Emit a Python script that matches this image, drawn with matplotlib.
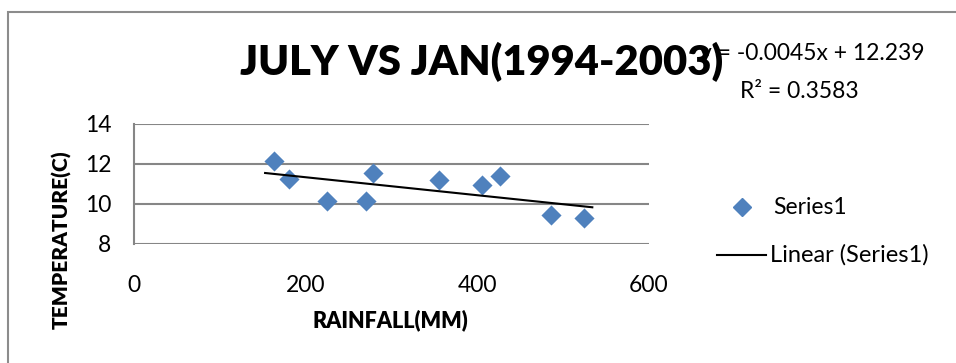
import numpy as np
import matplotlib.pyplot as plt
from matplotlib.lines import Line2D
from matplotlib.patches import Rectangle

# data
rainfall = [163, 181, 225, 271, 279, 356, 406, 427, 486, 524]
temperature = [12.17, 11.25, 10.13, 10.15, 11.53, 11.2, 10.97, 11.4, 9.43, 9.3]
slope, intercept = -0.0045, 12.239
r_squared = 0.3583
x_ticks = [0, 200, 400, 600]
y_ticks = [8, 10, 12, 14]

W, H = 956, 363
font = ['Lato', 'DejaVu Sans']
plt.rcParams['font.family'] = font
fs = 16.5

fig = plt.figure(figsize=(W / 100, H / 100), dpi=100)

# chart border (cropped on right/bottom)
fig.patches.append(Rectangle((8 / W, -0.1), 1.2, 1 - 12 / H + 0.1, transform=fig.transFigure,
                             fill=False, edgecolor='#8c8c8c', linewidth=1.5))

ax = fig.add_axes([133.7 / W, 1 - 244 / H, (649 - 133.7) / W, 120 / H])
ax.set_xlim(0, 600)
ax.set_ylim(8, 14)

ax.scatter(rainfall, temperature, marker='D', s=105, color='#4F81BD', zorder=3,
           linewidths=0)
xs = np.array([min(rainfall) - 10, max(rainfall) + 10])
ax.plot(xs, slope * xs + intercept, color='black', linewidth=1.5, zorder=4)

ax.set_yticks(y_ticks)
ax.set_xticks(x_ticks)
ax.grid(axis='y', color='#868686', linewidth=1.5)
ax.tick_params(length=0, labelsize=fs, colors='black')
ax.tick_params(axis='y', pad=16)
ax.tick_params(axis='x', pad=22)
for s in ['top', 'right', 'bottom']:
    ax.spines[s].set_visible(False)
ax.spines['left'].set_color('#868686')
ax.spines['left'].set_linewidth(1.5)

fig.text(390 / W, 1 - 320 / H, 'RAINFALL(MM)', ha='center', va='center',
         fontsize=15.5, fontweight='heavy')
fig.text(62 / W, 1 - 240 / H, 'TEMPERATURE(C)', ha='center', va='center',
         rotation=90, rotation_mode='anchor', fontsize=15, fontweight='heavy')

fig.text(482 / W, 1 - 62 / H, 'JULY VS JAN(1994-2003)', ha='center', va='center',
         fontsize=30, fontweight='heavy')

fig.text(700 / W, 1 - 53 / H, f'y = {slope}x + {intercept}', ha='left', va='center',
         fontsize=fs)
fig.text(740 / W, 1 - 91 / H, f'R² = {r_squared}', ha='left', va='center', fontsize=fs)

# legend
fig.add_artist(Line2D([742 / W], [1 - 207 / H], marker='D', markersize=9,
                      color='#4F81BD', linestyle='none', transform=fig.transFigure))
fig.text(773 / W, 1 - 207 / H, 'Series1', ha='left', va='center', fontsize=fs)
fig.add_artist(Line2D([717 / W, 766 / W], [1 - 255 / H, 1 - 255 / H], color='black',
                      linewidth=1.5, transform=fig.transFigure))
fig.text(770 / W, 1 - 255 / H, 'Linear (Series1)', ha='left', va='center', fontsize=17)

fig.savefig('out.png', dpi=100)
